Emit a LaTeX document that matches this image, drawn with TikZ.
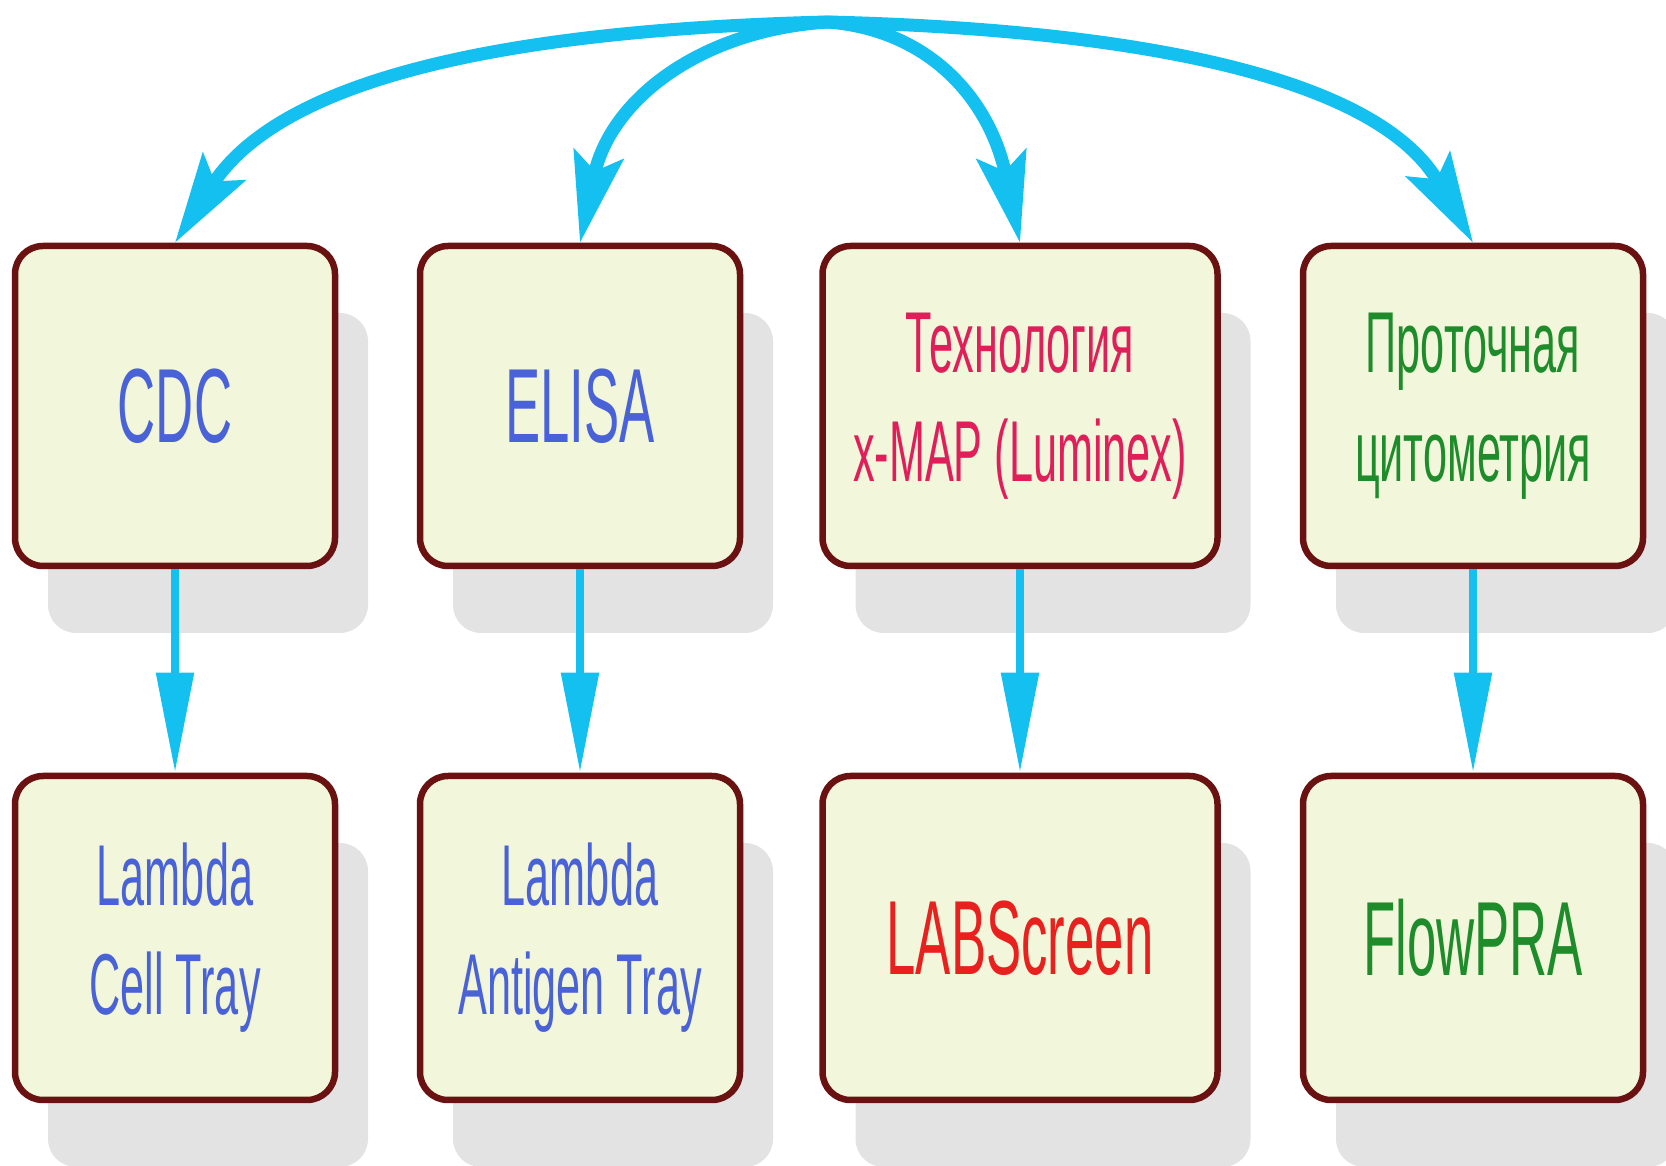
\documentclass[tikz,border=0pt]{standalone}
\usepackage{fontspec}
\usepackage{tikz}
\usetikzlibrary{arrows.meta,shadows}
\newfontfamily\boxfont{Liberation Sans}[FakeStretch=0.5]
\definecolor{boxfill}{HTML}{F2F7DC}
\definecolor{boxedge}{HTML}{6A1212}
\definecolor{shadowgray}{HTML}{E3E3E3}
\definecolor{arrowcyan}{HTML}{14C0F0}
\definecolor{textblue}{HTML}{4A62D8}
\definecolor{textcrimson}{HTML}{E01E5A}
\definecolor{textred}{HTML}{E8201E}
\definecolor{textgreen}{HTML}{1E8C2A}
\tikzset{
	method/.style={draw=boxedge, line width=0.65mm, fill=boxfill, rounded corners=2.8mm,
		minimum width=3.2cm, minimum height=3.2cm, align=center,
		drop shadow={shadow xshift=3.3mm, shadow yshift=-6.7mm, fill=shadowgray, opacity=1}},
	bigtext/.style={font=\boxfont\fontsize{30}{36}\selectfont},
	twotext/.style={font=\boxfont\fontsize{24.6}{31}\selectfont},
	link/.style={draw=arrowcyan, line width=1.3mm, -{Stealth[length=9mm, width=5mm, inset=1.7mm]}},
	drop/.style={draw=arrowcyan, line width=0.85mm, -{Triangle[length=10mm, width=3.6mm]}}
}

\begin{document}
\begin{tikzpicture}[x=0.1mm, y=-0.1mm]
		%%%%% START %%%%%
		\useasboundingbox (0, 0) rectangle (1666, 1166);
		
		\node[method, bigtext, text=textblue] (cdc) at (175, 406) {CDC};
		\node[method, bigtext, text=textblue] (elisa) at (580, 406) {ELISA};
		\node[method, twotext, text=textcrimson, minimum width=3.95cm] (xmap) at (1020, 406) {Технология\\x-MAP (Luminex)};
		\node[method, twotext, text=textgreen, minimum width=3.4cm] (flow) at (1473, 406) {Проточная\\цитометрия};
		
		\node[method, twotext, text=textblue, minimum height=3.24cm] (lambdacell) at (175, 938) {Lambda\\Cell Tray};
		\node[method, twotext, text=textblue, minimum height=3.24cm] (lambdaantigen) at (580, 938) {Lambda\\Antigen Tray};
		\node[method, bigtext, text=textred, minimum width=3.95cm, minimum height=3.24cm] (labscreen) at (1020, 938) {LABScreen};
		\node[method, bigtext, text=textgreen, minimum width=3.4cm, minimum height=3.24cm] (flowpra) at (1473, 938) {FlowPRA};
		
		\coordinate (hub) at (828, 22);
		\draw[link] (hub) .. controls (500, 30) and (280, 80) .. (cdc.north);
		\draw[link] (hub) .. controls (700, 30) and (610, 100) .. (elisa.north);
		\draw[link] (hub) .. controls (930, 30) and (990, 100) .. (xmap.north);
		\draw[link] (hub) .. controls (1150, 30) and (1380, 80) .. (flow.north);
		
		\foreach \up/\down in {cdc/lambdacell, elisa/lambdaantigen, xmap/labscreen, flow/flowpra}
			\draw[drop] (\up) -- (\down);
		%%%%% END %%%%%
\end{tikzpicture}
\end{document}
